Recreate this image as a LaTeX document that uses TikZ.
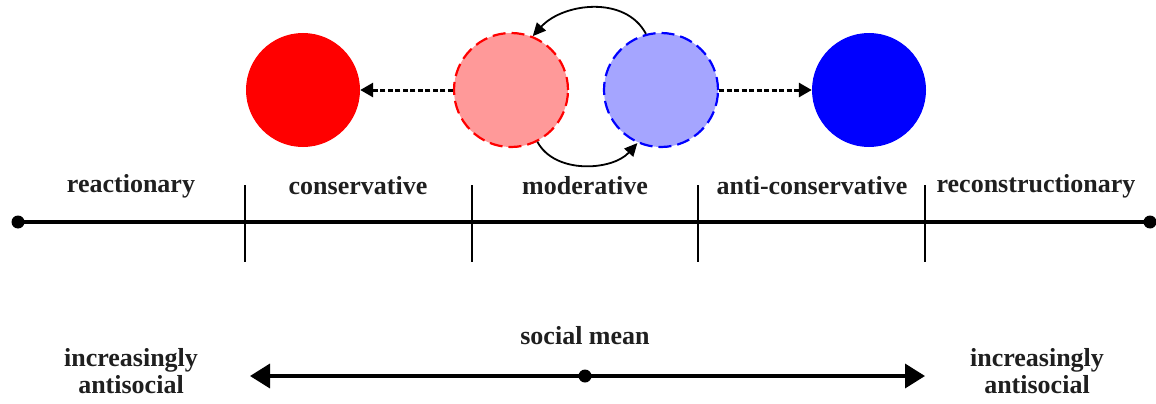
\documentclass[tikz,border=0pt]{standalone}
\usepackage{fontspec}
\setmainfont{Liberation Serif}
\usetikzlibrary{arrows.meta}
\definecolor{pinkc}{RGB}{255,153,153}
\definecolor{lblue}{RGB}{165,165,255}
\tikzset{
  lbl/.style={font=\fontsize{26}{27}\selectfont\bfseries, text=black!88, align=center, inner sep=0pt},
  ball/.style={circle, minimum size=114pt, inner sep=0pt},
  tick/.style={line width=1.8pt},
  dot/.style={circle, fill=black, minimum size=13pt, inner sep=0pt},
  dasharrow/.style={line width=3pt, dash pattern=on 5pt off 2.5pt, -{Triangle[length=13pt,width=14pt]}},
  curvearrow/.style={line width=1.8pt, -{Triangle[length=13pt,width=12pt]}}
}
\begin{document}
\begin{tikzpicture}[x=1pt,y=-1pt]
\useasboundingbox (0,0) rectangle (1156,404);
% circles
\node[ball, fill=red] (r) at (303,90) {};
\node[ball, fill=pinkc, draw=red, line width=2.2pt, dash pattern=on 13pt off 6pt] (p) at (511,90) {};
\node[ball, fill=lblue, draw=blue, line width=2.2pt, dash pattern=on 13pt off 6pt] (lb) at (661,90) {};
\node[ball, fill=blue] (b) at (869,90) {};
\draw[dasharrow] (p.west) -- (r.east);
\draw[dasharrow] (lb.east) -- (b.west);
\draw[curvearrow] (lb.105) to[out=118, in=48, looseness=1.0] (p.68);
\draw[curvearrow] (p.-63) to[out=-62, in=-132, looseness=0.95] (lb.-114);
% main axis
\node[dot] (L) at (18,222) {};
\node[dot] (R) at (1150,222) {};
\draw[line width=3.6pt] (L.center) -- (R.center);
\foreach \x/\n in {245/t1,472/t2,698/t3,925/t4}{
  \coordinate (\n a) at (\x,185);
  \coordinate (\n b) at (\x,262);
  \draw[tick] (\n a) -- (\n b);
}
\node[lbl] (l1) at (131,186) {reactionary};
\node[lbl] (l2) at (358,186) {conservative};
\node[lbl] (l3) at (585,186) {moderative};
\node[lbl] (l4) at (812,186) {anti-conservative};
\node[lbl] (l5) at (1036,186) {reconstructionary};
% bottom
\coordinate (al) at (250,376);
\coordinate (ar) at (925,376);
\node[dot] (m) at (585,376) {};
\draw[line width=3.6pt, {Triangle[length=20pt,width=24pt]}-{Triangle[length=20pt,width=24pt]}] (al) -- (ar);
\node[lbl] (sm) at (585,336) {social mean};
\node[lbl] (il) at (131,371) {increasingly\\[0pt]antisocial};
\node[lbl] (ir) at (1037,371) {increasingly\\[0pt]antisocial};
\end{tikzpicture}
\end{document}
